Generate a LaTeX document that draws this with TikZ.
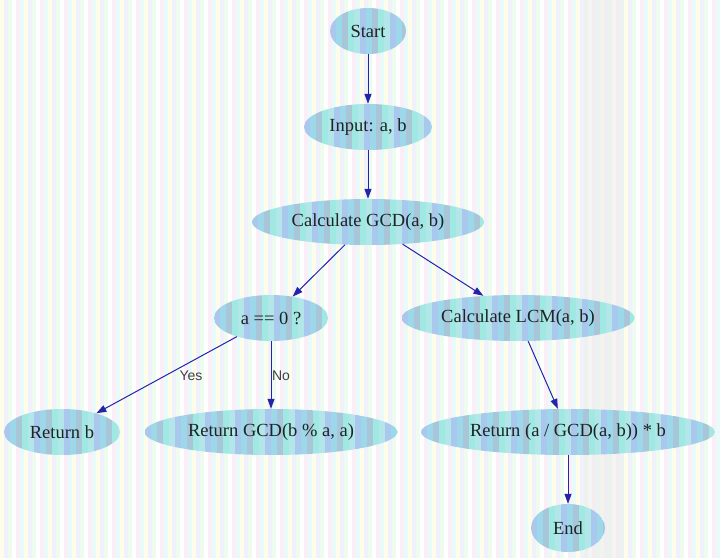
\documentclass[tikz,border=0pt]{standalone}
\usepackage{fontspec}
\setmainfont{Liberation Serif}
\newfontfamily\labelfont{Liberation Sans}
\usetikzlibrary{shapes.geometric,arrows.meta}
\definecolor{bg0}{HTML}{FFFFFF}
\definecolor{bg1}{HTML}{FCEEF6}
\definecolor{bg2}{HTML}{E9FAFA}
\definecolor{bg3}{HTML}{FDFDE9}
\definecolor{bg4}{HTML}{F1F1FE}
\definecolor{bg5}{HTML}{EEFBEF}
\definecolor{nd0}{HTML}{A0E8E2}
\definecolor{nd1}{HTML}{AAC8EE}
\definecolor{nd2}{HTML}{A8C6D8}
\definecolor{nd3}{HTML}{B2E6E8}
\definecolor{nd4}{HTML}{9CD8EA}
\definecolor{edgecol}{HTML}{2424A8}
\definecolor{txtcol}{HTML}{1C2424}
\tikzset{
  flownode/.style={ellipse, inner sep=0pt, minimum height=46pt, text=txtcol,
    font=\fontsize{18.5}{21}\selectfont,
    path picture={\foreach \k in {0,...,50}{\pgfmathtruncatemacro\m{mod(\k*3+1,5)}
      \fill[fill=nd\m] ([xshift=\k*6pt]path picture bounding box.south west) rectangle ([xshift=\k*6pt+6pt]path picture bounding box.north west);}}},
  flow/.style={draw=edgecol, line width=1pt, -{Triangle[length=10pt,width=7pt]}},
  elabel/.style={font=\labelfont\fontsize{14}{16}\selectfont, text=black!75, inner sep=0pt}
}
\begin{document}
\begin{tikzpicture}[x=1pt,y=-1pt]
\useasboundingbox (0,0) rectangle (720,558);
\foreach \k in {0,...,179}{\pgfmathtruncatemacro\m{mod(\k*7+3,6)}
  \fill[fill=bg\m] (\k*4,0) rectangle (\k*4+4,558);}
\fill[black!7, opacity=0.6] (584,0) rectangle (624,558);
\node[flownode, minimum width=76pt] (start) at (368,31) {Start};
\node[flownode, minimum width=128pt] (input) at (368,127) {Input: a, b};
\node[flownode, minimum width=232pt] (gcd) at (368,222) {Calculate GCD(a, b)};
\node[flownode, minimum width=114pt] (cond) at (271,318) {a == 0 ?};
\node[flownode, minimum width=233pt] (lcm) at (518,318) {Calculate LCM(a, b)};
\node[flownode, minimum width=116pt] (retb) at (62,432) {Return b};
\node[flownode, minimum width=253pt] (retgcd) at (271,432) {Return GCD(b \% a, a)};
\node[flownode, minimum width=294pt] (retlcm) at (568,432) {Return (a / GCD(a, b)) * b};
\node[flownode, minimum width=74pt, minimum height=48pt] (end) at (568,528) {End};
\draw[flow] (start) -- (input);
\draw[flow] (input) -- (gcd);
\draw[flow] (gcd) -- (cond);
\draw[flow] (gcd) -- (lcm);
\draw[flow] (cond) -- (retb);
\draw[flow] (cond) -- (retgcd);
\draw[flow] (lcm) -- (retlcm);
\draw[flow] (retlcm) -- (end);
\node[elabel] (yes) at (191,376) {Yes};
\node[elabel] (no) at (281,376) {No};
\end{tikzpicture}
\end{document}
